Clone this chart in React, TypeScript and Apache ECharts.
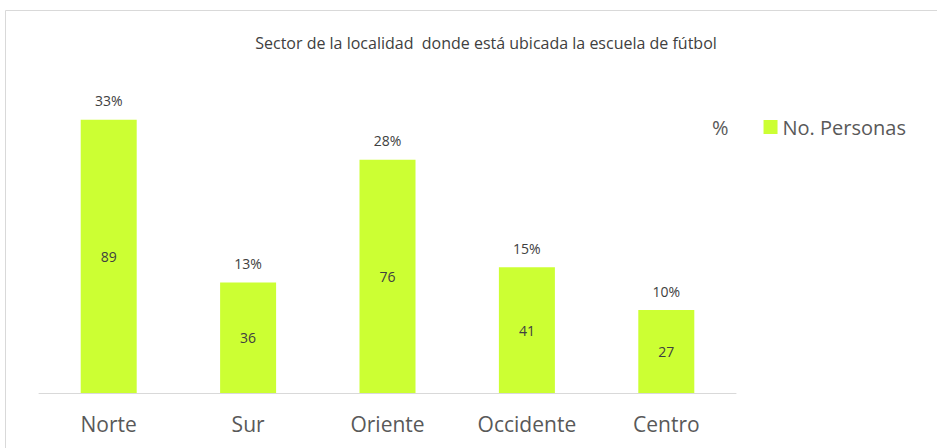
import React, { useEffect, useRef } from "react";
import * as echarts from "echarts";

const categories = ["Norte", "Sur", "Oriente", "Occidente", "Centro"];
const personas = [89, 36, 76, 41, 27];
const percentages = ["33%", "13%", "28%", "15%", "10%"];
const titleText = "Sector de la localidad  donde está ubicada la escuela de fútbol";

const FONT = "'Open Sans', sans-serif";

export default function App() {
  const ref = useRef<HTMLDivElement>(null);
  useEffect(() => {
    if (!ref.current) return;
    const chart = echarts.init(ref.current, null, { renderer: "svg" });
    chart.setOption({
      animation: false,
      backgroundColor: "#ffffff",
      textStyle: { fontFamily: FONT },
      title: {
        text: titleText,
        left: 481,
        top: 30,
        textAlign: "center",
        textStyle: { fontFamily: FONT, fontSize: 16, fontWeight: "normal", color: "#404040" },
      },
      legend: {
        left: 688,
        top: 112,
        itemGap: 35,
        itemWidth: 14,
        itemHeight: 14,
        textStyle: { fontFamily: FONT, fontSize: 20, color: "#595959" },
        data: [
          { name: "%", icon: "none" },
          { name: "No. Personas", icon: "rect" },
        ],
      },
      grid: { left: 39, top: 86, width: 697, height: 307, containLabel: false },
      xAxis: {
        type: "category",
        data: categories,
        axisLine: { lineStyle: { color: "#d9d9d9", width: 1 } },
        axisTick: { show: false },
        axisLabel: { fontFamily: FONT, fontSize: 21, color: "#595959", margin: 20 },
      },
      yAxis: {
        type: "value",
        min: 0,
        max: 100,
        show: false,
        splitLine: { show: false },
      },
      series: [
        {
          name: "No. Personas",
          type: "bar",
          data: personas,
          barWidth: 56,
          itemStyle: { color: "#ccff33" },
          label: {
            show: true,
            position: "inside",
            fontFamily: FONT,
            fontSize: 14,
            color: "#404040",
          },
        },
        {
          name: "%",
          type: "bar",
          data: personas,
          barWidth: 56,
          barGap: "-100%",
          itemStyle: { color: "rgba(0,0,0,0)" },
          label: {
            show: true,
            position: "top",
            distance: 12,
            fontFamily: FONT,
            fontSize: 14,
            color: "#404040",
            formatter: (p: any) => percentages[p.dataIndex],
          },
        },
      ],
      graphic: [
        {
          type: "rect",
          shape: { x: 5.5, y: 10.5, width: 1000, height: 500 },
          style: { fill: "none", stroke: "#d9d9d9", lineWidth: 1 },
          silent: true,
        },
      ],
    });
    return () => chart.dispose();
  }, []);
  return (
    <div
      ref={ref}
      style={{ position: "absolute", left: 0, top: 0, width: 937, height: 448 }}
    />
  );
}
